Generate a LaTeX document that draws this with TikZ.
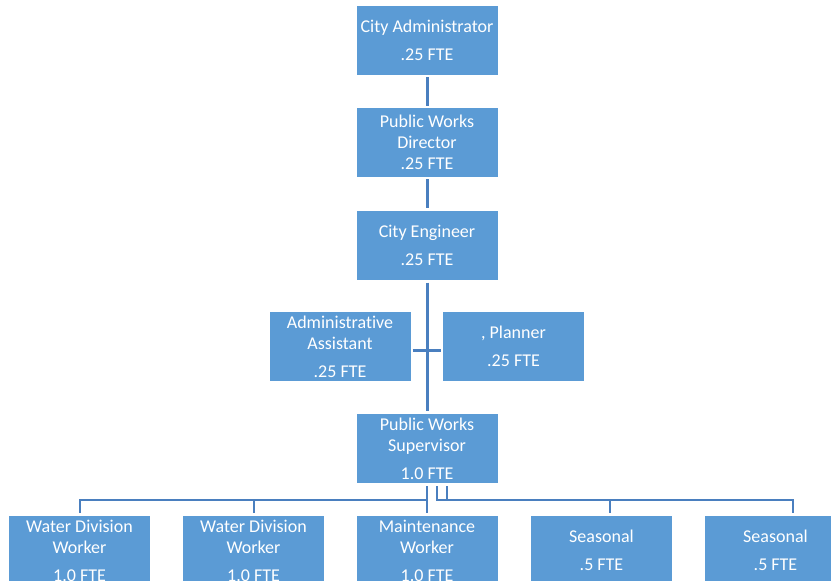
\documentclass[tikz,border=0pt]{standalone}
\usepackage{fontspec}
\setmainfont[Ligatures={NoCommon,NoContextual}]{Carlito}
\definecolor{boxblue}{HTML}{5B9BD5}
\definecolor{lineblue}{HTML}{4A7FBF}
\begin{document}
\begin{tikzpicture}[x=1pt,y=-1pt,
  orgbox/.style={fill=boxblue, draw=none, text=white, minimum width=141pt, minimum height=69pt,
    inner sep=0pt, align=center, font=\fontsize{18}{21}\selectfont},
  conn/.style={draw=lineblue, line width=3pt, shorten <=2pt, shorten >=2pt},
  bus/.style={draw=lineblue, line width=2pt, shorten <=3pt, shorten >=3pt}]
\useasboundingbox (0,0) rectangle (831,581);
\begin{scope}
\clip (0,0) rectangle (831,581);
\node[orgbox] (ca) at (427,40.5) {City Administrator\\[7pt].25 FTE};
\node[orgbox] (pwd) at (427,142.5) {Public Works\\Director\\.25 FTE};
\node[orgbox] (ce) at (427,245) {City Engineer\\[7pt].25 FTE};
\node[orgbox] (aa) at (340,346.5) {Administrat\kern0pt{}ive\\Assistant\\[7pt].25 FTE};
\node[orgbox] (pl) at (513.5,346.5) {, Planner\\[7pt].25 FTE};
\node[orgbox] (sup) at (427,448.5) {Public Works\\Supervisor\\[7pt]1.0 FTE};
\node[orgbox] (w1) at (79.5,550.5) {Water Division\\Worker\\[7pt]1.0 FTE};
\node[orgbox] (w2) at (253.5,550.5) {Water Division\\Worker\\[7pt]1.0 FTE};
\node[orgbox] (mw) at (427,550.5) {Maintenance\\Worker\\[7pt]1.0 FTE};
\node[orgbox] (s1) at (601.5,550.5) {Seasonal\\[7pt].5 FTE};
\node[orgbox] (s2) at (775.5,550.5) {Seasonal\\[7pt].5 FTE};

\draw[conn] (ca) -- (pwd);
\draw[conn] (pwd) -- (ce);
\draw[conn, shorten <=3pt, shorten >=3pt] (ce) -- (sup);
\draw[conn] ([yshift=-3.5pt]aa.east) -- ([yshift=-3.5pt]pl.west);

\draw[bus] (sup.south) -- ++(0,17) -| (w1.north);
\draw[bus] (sup.south) -- ++(0,17) -| (w2.north);
\draw[bus] (sup.south) -- (mw.north);
\draw[bus] ([xshift=10pt]sup.south) -- ++(0,17) -| ([xshift=8.5pt]s1.north);
\draw[bus] ([xshift=20pt]sup.south) -- ++(0,17) -| ([xshift=17.5pt]s2.north);
\end{scope}
\end{tikzpicture}
\end{document}
